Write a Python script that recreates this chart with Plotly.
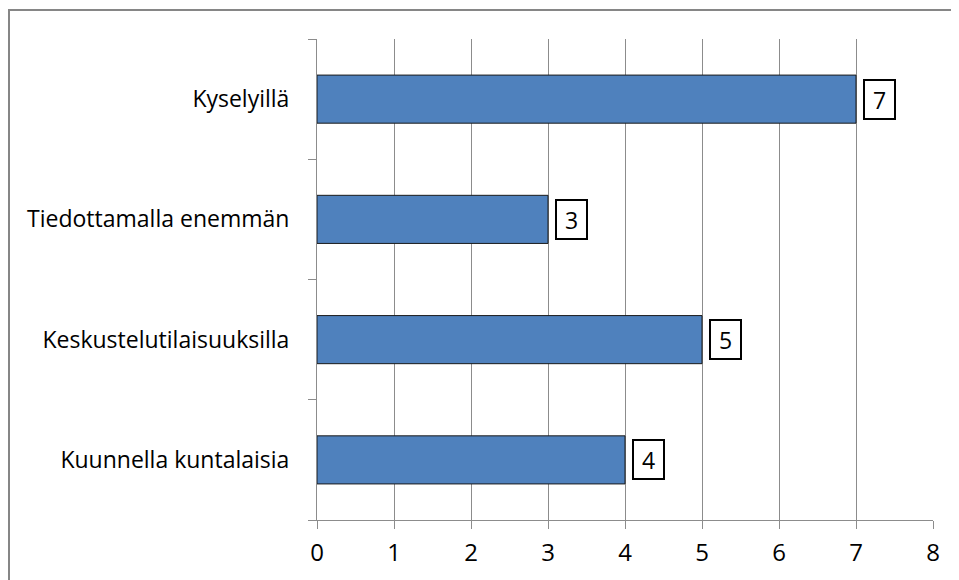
import plotly.graph_objects as go

categories = ["Kuunnella kuntalaisia", "Keskustelutilaisuuksilla", "Tiedottamalla enemmän", "Kyselyillä"]
values = [4, 5, 3, 7]
x_ticks = [0, 1, 2, 3, 4, 5, 6, 7, 8]

FONT = "Open Sans"

fig = go.Figure()
fig.add_trace(go.Bar(
    y=categories, x=values, orientation="h",
    marker=dict(color="#4F81BD", line=dict(color="#1a1a1a", width=1)),
    hoverinfo="x+y",
))

annotations = []
for c, v in zip(categories, values):
    annotations.append(dict(
        x=v, y=c, xref="x", yref="y", text=str(v), showarrow=False,
        xanchor="left", yanchor="middle", xshift=7,
        font=dict(family=FONT, size=23, color="#000"),
        bordercolor="#000", borderwidth=2, borderpad=2,
        bgcolor="white", width=25, height=33,
    ))

# page body has an 8px default margin, so figure coords = page coords - 8
fig.update_layout(
    width=951, height=572,
    margin=dict(l=309, r=26, t=31, b=60),
    paper_bgcolor="white", plot_bgcolor="white",
    bargap=0.6,
    showlegend=False,
    font=dict(family=FONT, size=23, color="#000"),
    annotations=annotations,
    shapes=[dict(type="rect", xref="paper", yref="paper",
                 x0=(1 - 309) / 616, x1=(990 - 309) / 616,
                 y0=(512 - 600) / 481, y1=(512 - 2) / 481,
                 line=dict(color="#868686", width=2), layer="below")],
    xaxis=dict(range=[0, 8], tickvals=x_ticks, showgrid=True, gridcolor="#8c8c8c", gridwidth=1,
               showline=True, linecolor="#8c8c8c", linewidth=1,
               ticks="outside", ticklen=8, tickcolor="#8c8c8c",
               ticklabelstandoff=3,
               tickfont=dict(family=FONT, size=24, color="#000"), zeroline=False,
               fixedrange=True),
    yaxis=dict(categoryorder="array", categoryarray=categories,
               showline=True, linecolor="#8c8c8c", linewidth=1,
               ticks="outside", ticklen=8, tickcolor="#8c8c8c", tickson="boundaries",
               ticklabelstandoff=22,
               tickfont=dict(family=FONT, size=23, color="#000"),
               showgrid=False, fixedrange=True),
)

fig.write_html("out.html")
